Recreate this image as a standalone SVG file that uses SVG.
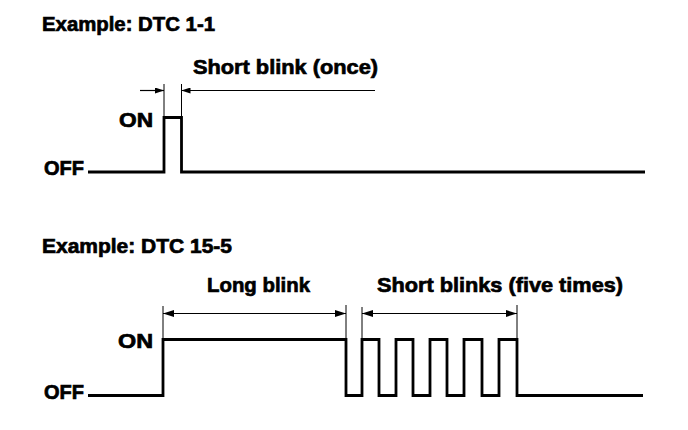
<svg xmlns="http://www.w3.org/2000/svg" width="688" height="430" viewBox="0 0 688 430">
  <style>
    .t { font-family: "Liberation Sans", Arial, sans-serif; font-weight: bold; fill: #000; stroke: #000; stroke-width: 0.7; }
    .title { font-size: 21px; }
    .lbl { font-size: 21px; }
    .lvl { font-size: 20px; }
    .sig { fill: none; stroke: #000; stroke-width: 2.8; stroke-linejoin: miter; }
    .dim { fill: none; stroke: #000; stroke-width: 1.2; }
    .ext { fill: none; stroke: #000; stroke-width: 1; }
  </style>
  <defs>
    <marker id="arr" viewBox="0 0 11 7" markerWidth="11" markerHeight="7" refX="11" refY="3.5" orient="auto-start-reverse" markerUnits="userSpaceOnUse">
      <path d="M0,0 L11,3.5 L0,7 z" fill="#000"/>
    </marker>
    <marker id="arrS" viewBox="0 0 9 6" markerWidth="9" markerHeight="6" refX="9" refY="3" orient="auto-start-reverse" markerUnits="userSpaceOnUse">
      <path d="M0,0 L9,3 L0,6 z" fill="#000"/>
    </marker>
  </defs>

  <g id="example1">
    <text class="t title" x="42" y="31" textLength="173" lengthAdjust="spacingAndGlyphs">Example: DTC 1-1</text>
    <text class="t lbl" x="193" y="74" textLength="185" lengthAdjust="spacingAndGlyphs">Short blink (once)</text>
    <text class="t lvl" x="119" y="127" textLength="34" lengthAdjust="spacingAndGlyphs">ON</text>
    <text class="t lvl" x="44" y="175" textLength="40" lengthAdjust="spacingAndGlyphs">OFF</text>
    <path class="sig" d="M88,172 H164 V117.5 H181.5 V172 H645"/>
  </g>

  <g id="example2">
    <text class="t title" x="42" y="253" textLength="190" lengthAdjust="spacingAndGlyphs">Example: DTC 15-5</text>
    <text class="t lbl" x="207" y="292" textLength="103" lengthAdjust="spacingAndGlyphs">Long blink</text>
    <text class="t lbl" x="377" y="292" textLength="246" lengthAdjust="spacingAndGlyphs">Short blinks (five times)</text>
    <text class="t lvl" x="118" y="348" textLength="35" lengthAdjust="spacingAndGlyphs">ON</text>
    <text class="t lvl" x="44" y="399" textLength="40" lengthAdjust="spacingAndGlyphs">OFF</text>
    <path class="sig" d="M88,395.5 H163 V339.5 H346 V395.5 H362 V339.5 H379 V395.5 H396 V339.5 H413 V395.5 H430 V339.5 H447 V395.5 H464 V339.5 H482 V395.5 H499 V339.5 H517 V395.5 H643"/>
  </g>

  <g id="connectors">
    <line class="ext" x1="164" y1="84" x2="164" y2="117"/>
    <line class="ext" x1="181.5" y1="84" x2="181.5" y2="117"/>
    <line class="dim" x1="140" y1="90.5" x2="164" y2="90.5" marker-end="url(#arrS)"/>
    <line class="dim" x1="375" y1="90.5" x2="181.5" y2="90.5" marker-end="url(#arrS)"/>
    <line class="ext" x1="163" y1="306" x2="163" y2="339"/>
    <line class="ext" x1="346" y1="305" x2="346" y2="339"/>
    <line class="ext" x1="362" y1="307" x2="362" y2="339"/>
    <line class="ext" x1="517" y1="305" x2="517" y2="339"/>
    <line class="dim" x1="163" y1="313.5" x2="346" y2="313.5" marker-start="url(#arr)" marker-end="url(#arr)"/>
    <line class="dim" x1="362" y1="313.5" x2="517" y2="313.5" marker-start="url(#arr)" marker-end="url(#arr)"/>
  </g>
</svg>
